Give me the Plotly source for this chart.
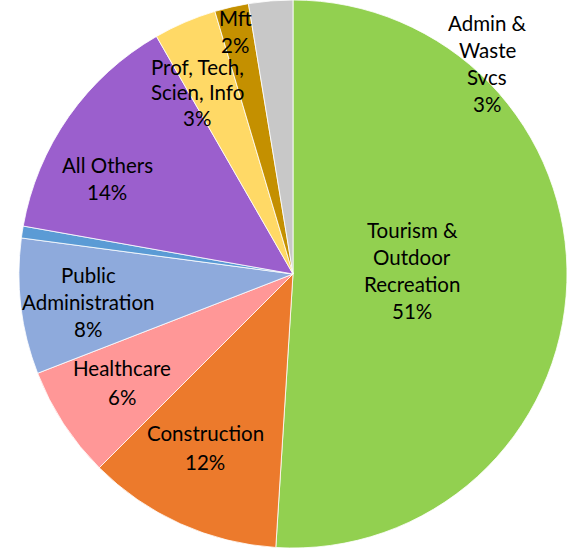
import plotly.graph_objects as go

# Dados do gráfico (fatias no sentido horário a partir das 12h)
setores = ["Tourism & Outdoor Recreation", "Construction", "Healthcare",
           "Public Administration", "Other", "All Others",
           "Prof, Tech, Scien, Info", "Mft", "Admin & Waste Svcs"]
valores = [51.0, 11.5, 6.6, 8.0, 0.7, 13.9, 3.7, 2.0, 2.6]
rotulos = ["Tourism &<br>Outdoor<br>Recreation<br>51%", "Construction<br>12%",
           "Healthcare<br>6%", "Public<br>Administration<br>8%", "",
           "All Others<br>14%", "Prof, Tech,<br>Scien, Info<br>3%",
           "Mft<br>2%", "Admin &<br>Waste<br>Svcs<br>3%"]
cores = ["#92D050", "#EC7A2C", "#FF9797", "#8EAADC", "#5B9BD5",
         "#9B5FCD", "#FFD966", "#C49000", "#C8C8C8"]

W, H = 572, 548

fig = go.Figure(go.Pie(
    labels=setores, values=valores, sort=False, direction="clockwise",
    rotation=0, marker=dict(colors=cores, line=dict(color="white", width=0.8)),
    textinfo="none", hoverinfo="label+percent", showlegend=False,
    domain=dict(x=[19 / W, 567 / W], y=[0, 1])
))

# Posição (px) da primeira linha de cada rótulo e espaçamento entre linhas
pos_rotulos = [(412, 230, 27), (205, 433, 29), (122, 368, 29), (88, 275, 27),
               None, (107, 165, 27), (197, 67, 25.5), (235, 18, 27), (487, 23, 27)]

for txt, pos in zip(rotulos, pos_rotulos):
    if pos is None:
        continue
    x0, y0, passo = pos
    for i, linha in enumerate(txt.split("<br>")):
        fig.add_annotation(
            x=x0 / W, y=1 - (y0 + i * passo) / H, xref="paper", yref="paper",
            text=linha, showarrow=False, xanchor="center", yanchor="middle",
            font=dict(family="Lato", size=20.5, color="#000000")
        )

fig.update_layout(
    width=W, height=H, margin=dict(l=0, r=0, t=0, b=0),
    paper_bgcolor="white", plot_bgcolor="white"
)

# tira a margem padrão do body para o gráfico ocupar a janela toda
fig.write_html("out.html", config={"displayModeBar": False},
               post_script="document.body.style.margin='0';")
